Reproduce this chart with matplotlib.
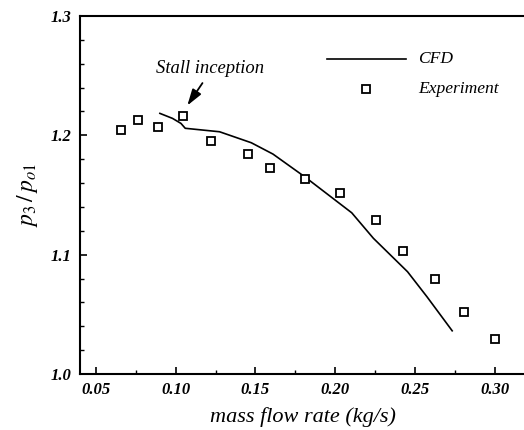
import matplotlib
matplotlib.use("Agg")
import matplotlib.pyplot as plt
from matplotlib.ticker import MultipleLocator

plt.rcParams['font.family'] = ['Liberation Serif', 'DejaVu Serif']
plt.rcParams['mathtext.fontset'] = 'stix'

# Experiment data
exp_x = [0.0656, 0.0766, 0.0888, 0.1043, 0.1220, 0.1451, 0.1589, 0.1814,
         0.2032, 0.2255, 0.2427, 0.2624, 0.2811, 0.3004]
exp_y = [1.2048, 1.2129, 1.2070, 1.2162, 1.1955, 1.1843, 1.1725, 1.1630,
         1.1515, 1.1288, 1.1028, 1.0800, 1.0519, 1.0297]

# CFD curve
cfd_x = [0.0901, 0.0980, 0.1033, 0.1060, 0.1275, 0.1474, 0.1610, 0.1814,
         0.2104, 0.2240, 0.2454, 0.2576, 0.2734]
cfd_y = [1.2184, 1.2142, 1.2100, 1.2059, 1.2030, 1.1938, 1.1843, 1.1648,
         1.1351, 1.1137, 1.0857, 1.0647, 1.0362]

xticks = [0.05, 0.10, 0.15, 0.20, 0.25, 0.30]
xticklabels = ['0.05', '0.10', '0.15', '0.20', '0.25', '0.30']
yticks = [1.0, 1.1, 1.2, 1.3]
yticklabels = ['1.0', '1.1', '1.2', '1.3']

fig = plt.figure(figsize=(5.24, 4.30), dpi=100)
ax = fig.add_axes([80/524, 56/430, 446.5/524, 358/430])

ax.plot(cfd_x, cfd_y, color='black', lw=1.2)
ax.plot(exp_x, exp_y, linestyle='none', marker='s', markersize=6,
        markerfacecolor='white', markeredgecolor='black', markeredgewidth=1.3)

ax.set_xlim(0.04, 0.32)
ax.set_ylim(1.0, 1.3)
ax.set_xticks(xticks)
ax.set_xticklabels(xticklabels)
ax.set_yticks(yticks)
ax.set_yticklabels(yticklabels)
ax.xaxis.set_minor_locator(MultipleLocator(0.025))
ax.yaxis.set_minor_locator(MultipleLocator(0.02))
ax.tick_params(which='both', direction='in', top=False, right=False)
ax.tick_params(which='major', length=5, width=1.2, pad=6)
ax.tick_params(which='minor', length=3, width=1.0)
for lbl in ax.get_xticklabels() + ax.get_yticklabels():
    lbl.set_fontstyle('italic')
    lbl.set_fontweight('bold')
    lbl.set_fontsize(12)

for s in ['left', 'bottom', 'top']:
    ax.spines[s].set_linewidth(1.5)
ax.spines['right'].set_visible(False)

ax.set_xlabel('mass flow rate (kg/s)', fontsize=16, style='italic', labelpad=6)
ax.set_ylabel(r'$p_3\,/\,p_{o1}$', fontsize=17, labelpad=8)

# legend drawn manually in axes data coords
ax.plot([0.1948, 0.2446], [1.2637, 1.2637], color='black', lw=1.2)
ax.text(0.2521, 1.2637, 'CFD', fontsize=12.6, style='italic', va='center', ha='left')
ax.plot([0.2194], [1.2388], linestyle='none', marker='s', markersize=6,
        markerfacecolor='white', markeredgecolor='black', markeredgewidth=1.3)
ax.text(0.2521, 1.2388, 'Experiment', fontsize=12.6, style='italic', va='center', ha='left')

ax.text(0.1218, 1.2564, 'Stall inception', fontsize=13.4, style='italic',
        ha='center', va='center')
ax.annotate('', xy=(0.1073, 1.2250), xytext=(0.1168, 1.2438),
            arrowprops=dict(arrowstyle='-|>,head_length=0.7,head_width=0.22',
                            color='black', lw=1.3,
                            shrinkA=0, shrinkB=0, mutation_scale=14))

fig.savefig('out.png', dpi=100)
